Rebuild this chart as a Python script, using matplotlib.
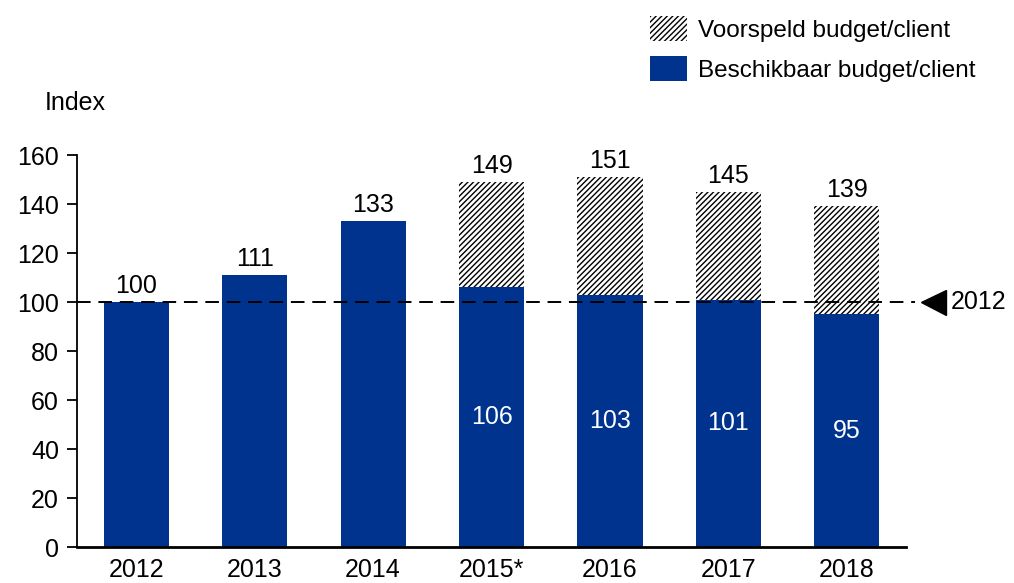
import matplotlib
matplotlib.use('Agg')
import matplotlib.pyplot as plt
from matplotlib.patches import Patch

plt.rcParams['font.family'] = ['Liberation Sans', 'DejaVu Sans']
plt.rcParams['hatch.linewidth'] = 1.0

years = ['2012', '2013', '2014', '2015*', '2016', '2017', '2018']
available = [100, 111, 133, 106, 103, 101, 95]
forecast = [None, None, None, 149, 151, 145, 139]
baseline = 100

blue = '#00338D'
fs = 18

fig = plt.figure(figsize=(10.14, 5.83), dpi=100)
ax = fig.add_axes([0.076, 0.0617, 0.8175, 0.6724])

x = list(range(len(years)))
width = 0.55

# hatched forecast part on top of the available budget
for i, tot in enumerate(forecast):
    if tot is None:
        continue
    ax.bar(i, tot - available[i], bottom=available[i], width=width,
           color='white', edgecolor='black', linewidth=0, hatch='//////', zorder=2)
ax.bar(x, available, width=width, color=blue, zorder=2)

# labels
for i in x:
    top = forecast[i] if forecast[i] is not None else available[i]
    ax.annotate(str(top), (i, top), xytext=(0, 3), textcoords='offset points',
                ha='center', va='bottom', fontsize=fs)
    if forecast[i] is not None:
        ax.text(i, available[i] / 2, str(available[i]), ha='center', va='center',
                color='white', fontsize=fs, zorder=3)

# reference line for 2012
ax.plot([-0.5, 6.58], [baseline, baseline], color='black', lw=1.4,
        dashes=(7, 4), clip_on=False, zorder=4)
ax.plot([6.73], [baseline], marker='<', color='black', markersize=18,
        clip_on=False, zorder=4)
ax.text(6.88, baseline, '2012', ha='left', va='center', fontsize=fs)

ax.set_xlim(-0.5, 6.5)
ax.set_ylim(0, 160)
ax.set_yticks(range(0, 161, 20))
ax.set_xticks(x)
ax.set_xticklabels(years)
ax.tick_params(axis='x', length=0, pad=8, labelsize=fs)
ax.tick_params(axis='y', length=7, width=1.3, labelsize=fs, pad=6)
for s in ['top', 'right']:
    ax.spines[s].set_visible(False)
ax.spines['left'].set_linewidth(1.3)
ax.spines['bottom'].set_linewidth(2)

fig.text(0.044, 0.823, 'Index', fontsize=fs, va='center')

handles = [Patch(facecolor='white', edgecolor='black', linewidth=0, hatch='//////'),
           Patch(facecolor=blue)]
fig.legend(handles, ['Voorspeld budget/client', 'Beschikbaar budget/client'],
           loc='upper left', bbox_to_anchor=(0.619, 1.01), frameon=False,
           fontsize=17.5, handlelength=1.55, handleheight=1.2, handletextpad=0.45,
           labelspacing=0.6)

fig.savefig('out.png', dpi=100)
